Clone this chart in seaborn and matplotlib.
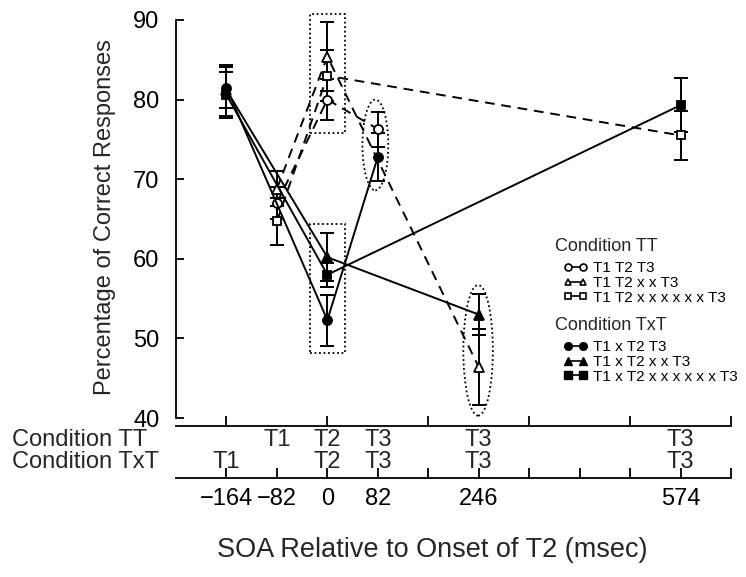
import numpy as np
import pandas as pd
import matplotlib
matplotlib.use("Agg")
import matplotlib.pyplot as plt
import matplotlib.transforms as mtransforms
from matplotlib.patches import Rectangle, Ellipse
from matplotlib.lines import Line2D
import seaborn as sns

sns.set_theme(style="ticks")
plt.rcParams["font.family"] = ["Liberation Sans", "DejaVu Sans"]

# ---------------- data ----------------
tt_labels = ["T1 T2 T3", "T1 T2 x x T3", "T1 T2 x x x x x x T3"]
tt_soa = [[-82, 0, 82], [-82, 0, 246], [-82, 0, 574]]
tt_pct = [[67.0, 80.0, 76.3], [68.8, 85.4, 46.4], [64.7, 83.0, 75.5]]
tt_err = [[2.0, 2.6, 2.2], [2.2, 4.3, 4.8], [3.0, 3.2, 3.1]]

txt_labels = ["T1 x T2 T3", "T1 x T2 x x T3", "T1 x T2 x x x x x x T3"]
txt_soa = [[-164, 0, 82], [-164, 0, 246], [-164, 0, 574]]
txt_pct = [[81.5, 52.3, 72.8], [81.2, 60.2, 53.0], [80.6, 58.0, 79.3]]
txt_err = [[2.6, 3.2, 3.0], [3.2, 3.0, 2.6], [2.9, 1.5, 3.4]]

markers = ["o", "^", "s"]
marker_sizes = [6.5, 7.5, 6.0]

xtick_pos = [-164, -82, 0, 82, 164, 246, 328, 410, 492, 574, 656]
xtick_lab = ["\u2212164", "\u221282", "0", "82", "", "246", "", "", "", "574", ""]
main_xticks = [-164, 0, 164, 328, 492, 656]
yticks = [40, 50, 60, 70, 80, 90]

tt_row_pos = [-82, 0, 82, 246, 574]
tt_row_lab = ["T1", "T2", "T3", "T3", "T3"]
txt_row_pos = [-164, 0, 82, 246, 574]
txt_row_lab = ["T1", "T2", "T3", "T3", "T3"]

rows = []
for cond, labs, soas, pcts, errs in [("TT", tt_labels, tt_soa, tt_pct, tt_err),
                                      ("TxT", txt_labels, txt_soa, txt_pct, txt_err)]:
    for i, lab in enumerate(labs):
        for s, p, e in zip(soas[i], pcts[i], errs[i]):
            rows.append(dict(cond=cond, series=lab, idx=i, soa=s, pct=p, err=e))
df = pd.DataFrame(rows)

# ---------------- figure ----------------
W, H = 746, 577
fig = plt.figure(figsize=(W / 100, H / 100), dpi=100)
L, R, T, B = 176, 731, 20, 418
ax = fig.add_axes([L / W, 1 - B / H, (R - L) / W, (B - T) / H])

FS = 17
for cond in ["TT", "TxT"]:
    sub_c = df[df.cond == cond]
    for i in range(3):
        d = sub_c[sub_c.idx == i]
        ls = "--" if cond == "TT" else "-"
        mfc = "white" if cond == "TT" else "black"
        ax.errorbar(d.soa, d.pct, yerr=d.err, fmt="none", ecolor="black",
                    elinewidth=1.4, capsize=5, capthick=1.4, zorder=2)
        sns.lineplot(data=d, x="soa", y="pct", ax=ax, sort=False, estimator=None,
                     color="black", linestyle=ls, linewidth=1.4,
                     marker=markers[i], markersize=marker_sizes[i],
                     markerfacecolor=mfc, markeredgecolor="black",
                     markeredgewidth=1.3, zorder=3 if cond == "TT" else 4)
        if ls == "--":
            ax.lines[-1].set_dashes((5, 3.5))

# dotted annotation shapes
dot = dict(fill=False, linestyle=(0, (1, 1.5)), linewidth=1.3, edgecolor="black",
           clip_on=False, zorder=1)
ax.add_patch(Rectangle((-28, 75.8), 56, 14.95, **dot))
ax.add_patch(Rectangle((-28, 48.2), 56, 16.2, **dot))
ax.add_patch(Ellipse((78, 74.3), 42, 11.4, **dot))
ax.add_patch(Ellipse((245, 48.5), 48, 16.4, **dot))

ax.set_xlim(-246, 656)
ax.set_ylim(40, 90)
ax.set_xticks(main_xticks)
ax.set_xticklabels([])
ax.set_yticks(yticks)
ax.set_yticklabels([str(v) for v in yticks], fontsize=FS)
ax.tick_params(axis="y", direction="in", length=6, width=1.3, pad=12, colors="black")
ax.tick_params(axis="x", direction="in", length=7, width=1.3, colors="black")
ax.spines["bottom"].set_position(("outward", 6))
for s in ["top", "right"]:
    ax.spines[s].set_visible(False)
for s in ["left", "bottom"]:
    ax.spines[s].set_linewidth(1.3)
    ax.spines[s].set_color("black")
ax.set_xlabel("")
ax.set_ylabel("")
ax.set_facecolor("none")

# legends (titles as text, entries as legends)
h_tt = [Line2D([0], [0], color="black", linestyle="-", linewidth=1.2, marker=markers[i],
               markersize=5, markerfacecolor="white", markeredgecolor="black",
               markeredgewidth=1.2) for i in range(3)]
h_txt = [Line2D([0], [0], color="black", linestyle="-", linewidth=1.2, marker=markers[i],
                markersize=5.5, markerfacecolor="black", markeredgecolor="black")
         for i in range(3)]
leg_kw = dict(frameon=False, fontsize=11, numpoints=2,
              handlelength=1.6, handletextpad=0.35, labelspacing=0.05,
              borderpad=0, borderaxespad=0, loc="center left")
leg1 = fig.legend(h_tt, tt_labels, bbox_to_anchor=(563 / W, 1 - 283 / H), **leg_kw)
leg2 = fig.legend(h_txt, txt_labels, bbox_to_anchor=(563 / W, 1 - 362 / H), **leg_kw)
for lg in (leg1, leg2):
    for t in lg.get_texts():
        t.set_color("black")
fig.text(555 / W, 1 - 247 / H, "Condition TT", fontsize=13, ha="left", va="center")
fig.text(555 / W, 1 - 325 / H, "Condition TxT", fontsize=13, ha="left", va="center")

# lower SOA axis
low_y = 478
ax2 = fig.add_axes([L / W, 1 - low_y / H, (R - L) / W, 0.0001])
ax2.set_xlim(-246, 656)
ax2.set_xticks(xtick_pos)
ax2.set_xticklabels(xtick_lab, fontsize=FS)
ax2.set_yticks([])
ax2.tick_params(axis="x", direction="in", length=7, width=1.3, pad=7, colors="black")
for s in ["top", "right", "left"]:
    ax2.spines[s].set_visible(False)
ax2.spines["bottom"].set_linewidth(1.3)
ax2.spines["bottom"].set_color("black")
ax2.set_facecolor("none")

trans = mtransforms.blended_transform_factory(ax2.transData, fig.transFigure)
y_tt, y_txt = 1 - 440 / H, 1 - 462 / H
fig.text(12 / W, y_tt, "Condition TT", fontsize=FS, va="center", ha="left")
fig.text(12 / W, y_txt, "Condition TxT", fontsize=FS, va="center", ha="left")
for p, lab in zip(tt_row_pos, tt_row_lab):
    fig.text(p, y_tt, lab, transform=trans, fontsize=FS, va="center", ha="center")
for p, lab in zip(txt_row_pos, txt_row_lab):
    fig.text(p, y_txt, lab, transform=trans, fontsize=FS, va="center", ha="center")

fig.text(432 / W, 1 - 550 / H, "SOA Relative to Onset of T2 (msec)", fontsize=19.5,
         ha="center", va="center")
fig.text(105 / W, 1 - 217 / H, "Percentage of Correct Responses", fontsize=FS,
         rotation=90, ha="center", va="center")

fig.savefig("out.png", dpi=100)
